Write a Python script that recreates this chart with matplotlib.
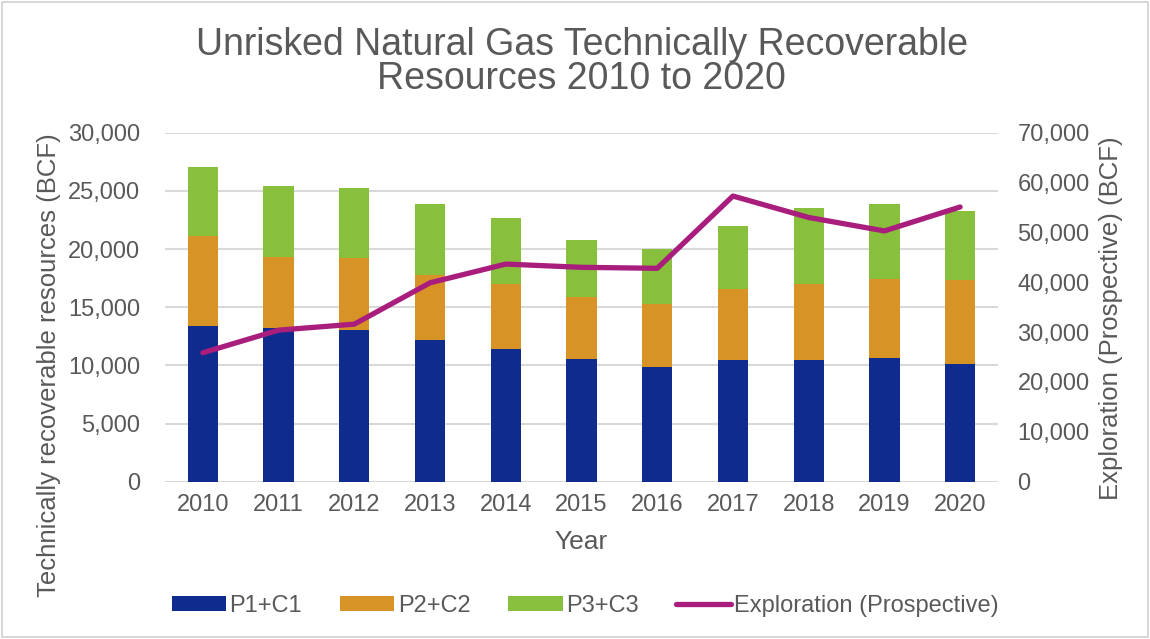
import matplotlib.pyplot as plt
from matplotlib.patches import Rectangle
import numpy as np

plt.rcParams['font.family'] = ['Liberation Sans', 'DejaVu Sans']

# ---------- Данные ----------
years = ["2010", "2011", "2012", "2013", "2014", "2015",
         "2016", "2017", "2018", "2019", "2020"]
p1c1 = [13410, 13210, 13040, 12180, 11400, 10570, 9860, 10460, 10460, 10600, 10140]
p1c2_total = [21090, 19280, 19200, 17740, 16960, 15850, 15240, 16590, 16960, 17450, 17340]
p3_total = [27080, 25420, 25210, 23870, 22660, 20800, 19970, 22010, 23500, 23870, 23240]
exploration = [25870, 30400, 31600, 39900, 43650, 43000, 42800, 57300, 53000, 50300, 55100]

p2c2 = [b - a for a, b in zip(p1c1, p1c2_total)]
p3c3 = [c - b for b, c in zip(p1c2_total, p3_total)]

text_color = "#595959"
grid_color = "#D9D9D9"

# ---------- Построение графика ----------
fig = plt.figure(figsize=(11.5, 6.39), dpi=100)
ax = fig.add_axes([0.1435, 0.2462, 0.7243, 0.5461])
ax2 = ax.twinx()

x = np.arange(len(years))
w = 0.4
ax.bar(x, p1c1, w, color="#0F2B8E", label="P1+C1", zorder=3)
ax.bar(x, p2c2, w, bottom=p1c1, color="#D89327", label="P2+C2", zorder=3)
ax.bar(x, p3c3, w, bottom=p1c2_total, color="#88BF3D", label="P3+C3", zorder=3)
ax2.plot(x, exploration, color="#A91E7D", linewidth=3.8,
         solid_capstyle="round", label="Exploration (Prospective)", zorder=4)

ax.set_xlim(-0.5, len(years) - 0.5)
ax.set_ylim(0, 30000)
ax2.set_ylim(0, 70000)
ax.set_yticks(range(0, 30001, 5000))
ax2.set_yticks(range(0, 70001, 10000))
ax.set_yticklabels([f"{v:,}" for v in range(0, 30001, 5000)])
ax2.set_yticklabels([f"{v:,}" for v in range(0, 70001, 10000)])
ax.set_xticks(x)
ax.set_xticklabels(years)

ax.grid(axis="y", color=grid_color, linewidth=1.5, zorder=0)
for a in (ax, ax2):
    for s in a.spines.values():
        s.set_visible(False)
    a.tick_params(length=0, labelsize=17, colors=text_color)
ax.tick_params(axis="y", pad=18)
ax.tick_params(axis="x", pad=9)
ax2.tick_params(axis="y", pad=14)

ax.set_xlabel("Year", fontsize=19, color=text_color, labelpad=10)
ax.set_ylabel("Technically recoverable resources (BCF)", fontsize=18.5,
              color=text_color)
ax2.set_ylabel("Exploration (Prospective) (BCF)", fontsize=18.5,
               color=text_color)
# позиции подписей осей как в оригинале (в пикселях фигуры)
ax.yaxis.set_label_coords(61 / 1150, (639 - 365) / 639, transform=fig.transFigure)
ax2.yaxis.set_label_coords(1099 / 1150, (639 - 318) / 639, transform=fig.transFigure)

fig.suptitle("Unrisked Natural Gas Technically Recoverable\nResources 2010 to 2020",
             fontsize=27, color=text_color, y=0.958, x=0.506, linespacing=0.95)

h1, l1 = ax.get_legend_handles_labels()
h2, l2 = ax2.get_legend_handles_labels()
fig.legend(h1 + h2, l1 + l2, loc="center", bbox_to_anchor=(0.509, 0.052),
           ncol=4, frameon=False, fontsize=17, labelcolor=text_color,
           handlelength=2.3, handleheight=0.6, handletextpad=0.15, columnspacing=1.6)

# рамка вокруг диаграммы
fig.patches.append(Rectangle((0.002, 0.003), 0.996, 0.994, transform=fig.transFigure,
                             fill=False, edgecolor="#D0D0D0", linewidth=1.2))

fig.savefig("out.png", dpi=100)
